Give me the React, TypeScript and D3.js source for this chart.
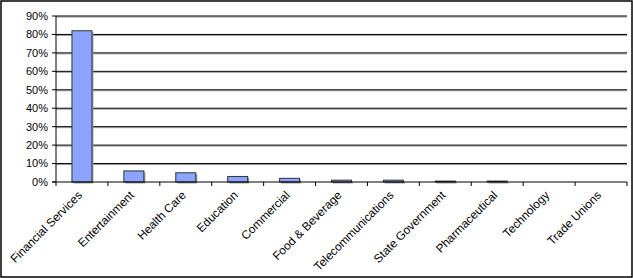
import React from "react";
import * as d3 from "d3";

const categories = [
  "Financial Services",
  "Entertainment",
  "Health Care",
  "Education",
  "Commercial",
  "Food & Beverage",
  "Telecommunications",
  "State Government",
  "Pharmaceutical",
  "Technology",
  "Trade Unions",
];
const values = [0.82, 0.06, 0.05, 0.03, 0.02, 0.01, 0.01, 0.005, 0.005, 0, 0];
const yTicks = [0, 0.1, 0.2, 0.3, 0.4, 0.5, 0.6, 0.7, 0.8, 0.9];

const W = 633;
const H = 278;
const left = 56;
const right = 627;
const top = 16;
const bottom = 182;

export default function App() {
  const xb = d3.scaleBand<string>().domain(categories).range([left, right]);
  const y = d3.scaleLinear().domain([0, 0.9]).range([bottom, top]);
  const fmt = d3.format(".0%");
  const font = "'Liberation Sans', Arial, sans-serif";
  return (
    <svg width={W} height={H} style={{ position: "absolute", left: 0, top: 0, background: "#fff" }}>
      <rect x={1} y={1} width={W - 2} height={H - 2} fill="#fff" stroke="#000" strokeWidth={1.5} />
      {yTicks.slice(1).map((t) => (
        <g key={t}>
          <line x1={left} x2={right} y1={y(t) + 1} y2={y(t) + 1} stroke="#9a9a9a" strokeWidth={1} />
          <line x1={left} x2={right} y1={y(t)} y2={y(t)} stroke="#000" strokeWidth={1} />
        </g>
      ))}
      {categories.map((c, i) => {
        const bx = xb(c)! + (xb.bandwidth() - 20) / 2;
        const v = values[i];
        if (v <= 0) return null;
        const y0 = y(v);
        return (
          <g key={c}>
            <rect x={bx + 1.5} y={y0 + 1.5} width={20} height={bottom - y0} fill="#a0a0a0" />
            <rect x={bx} y={y0} width={20} height={bottom - y0} fill="#8aa4ff" stroke="#333" strokeWidth={1} />
          </g>
        );
      })}
      <line x1={left} x2={left} y1={top} y2={bottom + 4} stroke="#000" />
      <line x1={left - 4} x2={right} y1={bottom} y2={bottom} stroke="#000" />
      {yTicks.map((t) => (
        <g key={t}>
          <line x1={left - 4} x2={left} y1={y(t)} y2={y(t)} stroke="#000" />
          <text x={left - 8} y={y(t)} dy="0.35em" textAnchor="end" fontFamily={font} fontSize={11} fill="#000">
            {fmt(t)}
          </text>
        </g>
      ))}
      {categories.map((c) => (
        <line key={c} x1={xb(c)! + xb.bandwidth()} x2={xb(c)! + xb.bandwidth()} y1={bottom} y2={bottom + 4} stroke="#000" />
      ))}
      {categories.map((c) => {
        const cx = xb(c)! + xb.bandwidth() / 2 - 2;
        const cy = bottom + 11;
        return (
          <text
            key={c}
            transform={`translate(${cx},${cy}) rotate(-45)`}
            textAnchor="end"
            dy="0.35em"
            fontFamily={font}
            fontSize={11.8}
            fill="#000"
          >
            {c}
          </text>
        );
      })}
    </svg>
  );
}
